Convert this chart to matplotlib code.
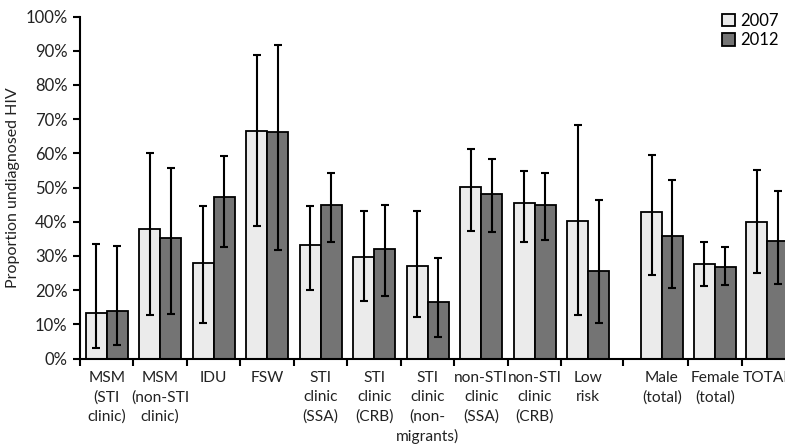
import matplotlib
matplotlib.use('Agg')
from matplotlib import pyplot as plt
from matplotlib.patches import Patch

plt.rcParams['font.family'] = ['Lato', 'DejaVu Sans']

categories = ['MSM\n(STI\nclinic)', 'MSM\n(non-STI\nclinic)', 'IDU', 'FSW',
              'STI\nclinic\n(SSA)', 'STI\nclinic\n(CRB)', 'STI\nclinic\n(non-\nmigrants)',
              'non-STI\nclinic\n(SSA)', 'non-STI\nclinic\n(CRB)', 'Low\nrisk',
              'Male\n(total)', 'Female\n(total)', 'TOTAL']

v2007 = [13.2, 37.9, 27.8, 66.5, 33.1, 29.7, 27.0, 50.2, 45.4, 40.3, 42.7, 27.5, 39.9]
lo2007 = [3.2, 12.6, 10.3, 38.6, 20.0, 16.8, 12.0, 37.2, 34.1, 12.7, 24.3, 21.1, 25.1]
hi2007 = [33.4, 60.0, 44.5, 88.7, 44.7, 43.2, 43.2, 61.3, 54.9, 68.3, 59.4, 34.2, 55.0]

v2012 = [13.8, 35.3, 47.2, 66.2, 44.8, 32.1, 16.4, 48.0, 44.8, 25.6, 35.9, 26.8, 34.4]
lo2012 = [3.9, 13.0, 32.7, 31.7, 34.1, 18.4, 6.2, 37.0, 34.6, 10.3, 20.5, 21.5, 21.7]
hi2012 = [32.8, 55.8, 59.3, 91.6, 54.2, 44.8, 29.4, 58.2, 54.2, 46.3, 52.2, 32.7, 49.0]

# layout: the last three groups sit a bit further right, after a gap
centres = [i + 0.5 for i in range(10)] + [10.88, 11.87, 12.85]
ticks = list(range(10)) + [10.15, 11.37, 12.37]

light = '#ebebeb'
dark = '#747474'
txt = '#222222'
w = 0.39

fig = plt.figure(dpi=100, figsize=(7.85, 4.48))
ax = fig.add_axes([80 / 785, 89.5 / 448, 1 - 80 / 785, 342 / 448])

x1 = [c - w / 2 for c in centres]
x2 = [c + w / 2 for c in centres]
f = lambda a: [v / 100 for v in a]

ax.bar(x1, f(v2007), w, color=light, edgecolor='black', linewidth=1.3, zorder=2)
ax.bar(x2, f(v2012), w, color=dark, edgecolor='black', linewidth=1.3, zorder=2)

err1 = [[(v - l) / 100 for v, l in zip(v2007, lo2007)], [(h - v) / 100 for v, h in zip(v2007, hi2007)]]
err2 = [[(v - l) / 100 for v, l in zip(v2012, lo2012)], [(h - v) / 100 for v, h in zip(v2012, hi2012)]]
ax.errorbar(x1, f(v2007), yerr=err1, fmt='none', ecolor='black', elinewidth=1.5, capsize=3, capthick=1.5, zorder=3)
ax.errorbar(x2, f(v2012), yerr=err2, fmt='none', ecolor='black', elinewidth=1.5, capsize=3, capthick=1.5, zorder=3)

ax.set_xlim(0, 13.18)
ax.set_ylim(0, 1)
ax.set_yticks([i / 10 for i in range(11)])
ax.set_yticklabels(['%d%%' % (i * 10) for i in range(11)], fontsize=12, color=txt)
ax.set_xticks(ticks)
ax.set_xticklabels([])
ax.set_xticks(centres, minor=True)
ax.set_xticklabels(categories, minor=True, fontsize=11.2, color=txt, linespacing=1.45, va='top')
ax.tick_params(axis='x', which='minor', length=0, pad=9)
ax.tick_params(axis='x', which='major', length=5, width=1.5, direction='out')
ax.tick_params(axis='y', length=5, width=1.5, direction='out', pad=4)

for s in ['top', 'right']:
    ax.spines[s].set_visible(False)
for s in ['left', 'bottom']:
    ax.spines[s].set_linewidth(1.5)

ax.set_ylabel('Proportion undiagnosed HIV', fontsize=11.5, color=txt, labelpad=4)

handles = [Patch(facecolor=light, edgecolor='black', linewidth=1.3, label='2007'),
           Patch(facecolor=dark, edgecolor='black', linewidth=1.3, label='2012')]
ax.legend(handles=handles, loc='upper right', bbox_to_anchor=(1.0, 1.03), frameon=False,
          fontsize=12, handlelength=0.75, handleheight=0.75, handletextpad=0.3, labelspacing=0.2,
          borderaxespad=0)

plt.savefig('out.png', dpi=100)
